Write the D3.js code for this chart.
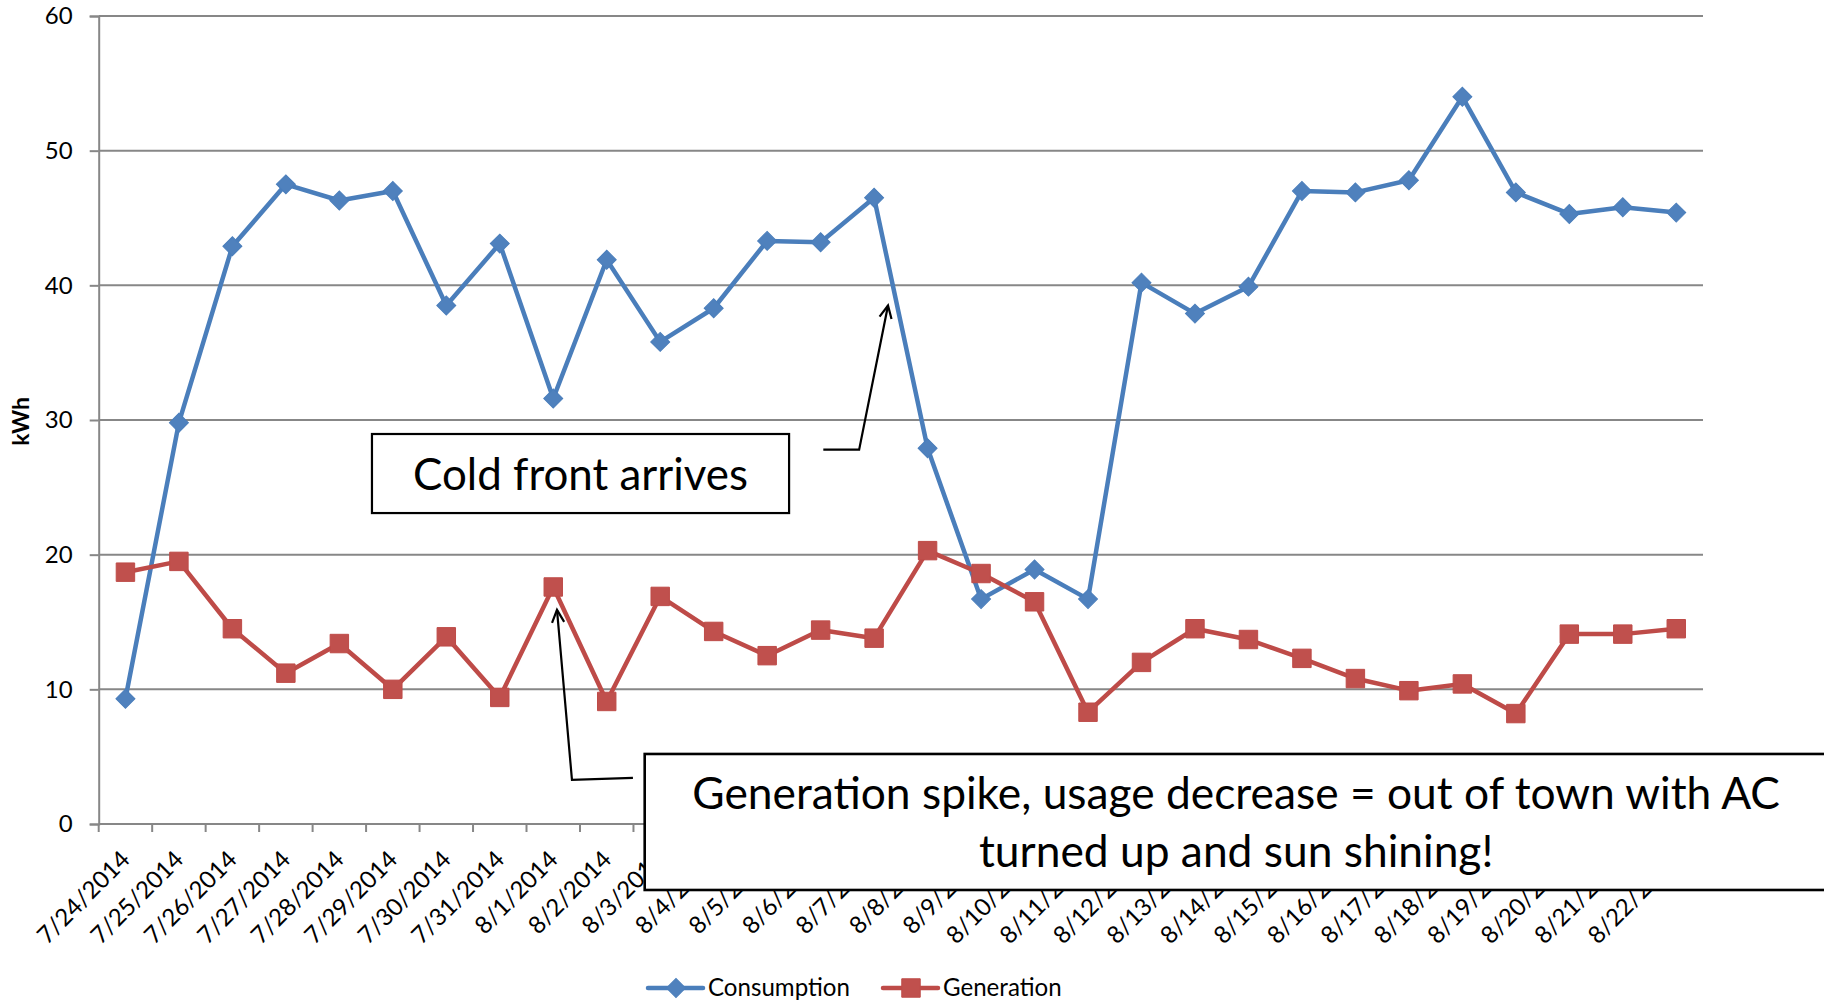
<!DOCTYPE html>
<html>
<head>
<meta charset="utf-8">
<script src="https://cdn.jsdelivr.net/npm/d3@7"></script>
<style>
  html, body { margin: 0; padding: 0; background: #fff; }
  svg { display: block; font-family: Lato, "Open Sans", sans-serif; }
</style>
</head>
<body>
<svg id="chart" width="1824" height="1001"></svg>
<script>
const categories = ["7/24/2014","7/25/2014","7/26/2014","7/27/2014","7/28/2014","7/29/2014","7/30/2014","7/31/2014",
  "8/1/2014","8/2/2014","8/3/2014","8/4/2014","8/5/2014","8/6/2014","8/7/2014","8/8/2014","8/9/2014","8/10/2014",
  "8/11/2014","8/12/2014","8/13/2014","8/14/2014","8/15/2014","8/16/2014","8/17/2014","8/18/2014","8/19/2014",
  "8/20/2014","8/21/2014","8/22/2014"];
const consumption = [9.3, 29.8, 42.9, 47.5, 46.3, 47.0, 38.5, 43.1, 31.6, 41.9, 35.8, 38.3, 43.3, 43.2, 46.5,
  27.9, 16.7, 18.9, 16.7, 40.2, 37.9, 39.9, 47.0, 46.9, 47.8, 54.0, 46.9, 45.3, 45.8, 45.4];
const generation = [18.7, 19.5, 14.5, 11.2, 13.4, 10.0, 13.9, 9.4, 17.6, 9.1, 16.9, 14.3, 12.5, 14.4, 13.8,
  20.3, 18.6, 16.5, 8.3, 12.0, 14.5, 13.7, 12.3, 10.8, 9.9, 10.4, 8.2, 14.1, 14.1, 14.5];
const yTicks = [0, 10, 20, 30, 40, 50, 60];
const seriesNames = ["Consumption", "Generation"];
const yTitle = "kWh";
const note1 = "Cold front arrives";
const note2 = ["Generation spike, usage decrease = out of town with AC", "turned up and sun shining!"];

const svg = d3.select("#chart");
const M = { left: 98.7, right: 1703, top: 16, bottom: 824 };
const BLUE_LINE = "#4A7EBB", BLUE_FILL = "#4F81BD";
const RED_LINE = "#BE4B48", RED_FILL = "#C0504D";
const GRID = "#878787";

const x = d3.scaleBand().domain(categories).range([M.left, M.right]).paddingInner(0).paddingOuter(0);
const xi = d3.scaleLinear().domain([0, categories.length]).range([M.left, M.right]); // index space
const y = d3.scaleLinear().domain([0, 60]).range([M.bottom, M.top]);
const cx = c => x(c) + x.bandwidth() / 2;

// gridlines
svg.append("g").selectAll("line").data(yTicks.filter(t => t > 0)).join("line")
  .attr("x1", M.left).attr("x2", M.right)
  .attr("y1", d => y(d)).attr("y2", d => y(d))
  .attr("stroke", GRID).attr("stroke-width", 2);

// y axis
const yAxis = svg.append("g").attr("transform", `translate(${M.left},0)`)
  .call(d3.axisLeft(y).tickValues(yTicks).tickSize(9).tickPadding(17).tickFormat(d3.format("d")));
yAxis.select(".domain").attr("stroke", GRID).attr("stroke-width", 2);
yAxis.selectAll(".tick line").attr("stroke", GRID).attr("stroke-width", 2);
yAxis.selectAll(".tick text").attr("font-size", 24).attr("fill", "#000").attr("font-family", "Lato");

// x axis line + boundary ticks
svg.append("line").attr("x1", M.left).attr("x2", M.right).attr("y1", M.bottom).attr("y2", M.bottom)
  .attr("stroke", GRID).attr("stroke-width", 2);
svg.append("g").selectAll("line").data(d3.range(categories.length + 1)).join("line")
  .attr("x1", d => xi(d)).attr("x2", d => xi(d))
  .attr("y1", M.bottom).attr("y2", M.bottom + 8)
  .attr("stroke", GRID).attr("stroke-width", 2);

// x labels
svg.append("g").selectAll("text").data(categories).join("text")
  .attr("transform", d => `translate(${cx(d) + 6},${M.bottom + 37}) rotate(-45)`)
  .attr("text-anchor", "end")
  .attr("font-size", 24)
  .attr("fill", "#000")
  .text(d => d);

// y title
svg.append("text")
  .attr("transform", `translate(29,${y(29.9)}) rotate(-90)`)
  .attr("text-anchor", "middle")
  .attr("font-size", 23).attr("font-weight", "bold").attr("fill", "#000")
  .text(yTitle);

// lines
const line = d3.line().x((d, i) => cx(categories[i])).y(d => y(d));
svg.append("path").datum(consumption).attr("d", line)
  .attr("fill", "none").attr("stroke", BLUE_LINE).attr("stroke-width", 4.5).attr("stroke-linejoin", "round");
svg.append("path").datum(generation).attr("d", line)
  .attr("fill", "none").attr("stroke", RED_LINE).attr("stroke-width", 4.5).attr("stroke-linejoin", "round");

const diamond = d3.symbol().type(d3.symbolSquare).size(180);
svg.append("g").selectAll("path").data(consumption).join("path")
  .attr("d", diamond())
  .attr("transform", (d, i) => `translate(${cx(categories[i])},${y(d)}) rotate(45)`)
  .attr("fill", BLUE_FILL).attr("stroke", BLUE_LINE).attr("stroke-width", 1);
const square = d3.symbol().type(d3.symbolSquare).size(340);
svg.append("g").selectAll("path").data(generation).join("path")
  .attr("d", square())
  .attr("transform", (d, i) => `translate(${cx(categories[i])},${y(d)})`)
  .attr("fill", RED_FILL).attr("stroke", RED_LINE).attr("stroke-width", 1);

// helper to fit text width
function fitWidth(sel, target) {
  const w = sel.node().getComputedTextLength();
  const fs = parseFloat(sel.attr("font-size"));
  const nfs = fs * target / w;
  sel.attr("font-size", nfs);
  return nfs;
}

// annotation arrows
function arrow(pts) {
  const p = pts.map(([i, v]) => [xi(i), y(v)]);
  svg.append("path").attr("d", d3.line()(p)).attr("fill", "none")
    .attr("stroke", "#000").attr("stroke-width", 2.2);
  const [a, b] = [p[p.length - 2], p[p.length - 1]];
  const ang = Math.atan2(b[1] - a[1], b[0] - a[0]);
  const L = 14, s = 0.45;
  const h1 = [b[0] - L * Math.cos(ang - s), b[1] - L * Math.sin(ang - s)];
  const h2 = [b[0] - L * Math.cos(ang + s), b[1] - L * Math.sin(ang + s)];
  svg.append("path").attr("d", d3.line()([h1, b, h2])).attr("fill", "none")
    .attr("stroke", "#000").attr("stroke-width", 2.2);
}
arrow([[13.55, 27.8], [14.22, 27.8], [14.76, 38.5]]);
arrow([[9.99, 3.42], [8.85, 3.27], [8.57, 15.9]]);

// box 1
svg.append("rect")
  .attr("x", xi(5.11)).attr("y", y(28.96))
  .attr("width", xi(12.91) - xi(5.11)).attr("height", y(23.09) - y(28.96))
  .attr("fill", "#fff").attr("stroke", "#000").attr("stroke-width", 2.2);
const t1 = svg.append("text")
  .attr("x", xi(9.01)).attr("y", y(24.8))
  .attr("text-anchor", "middle").attr("font-size", 36).attr("fill", "#000")
  .text(note1);
fitWidth(t1, 335);

// box 2
svg.append("rect")
  .attr("x", xi(10.21)).attr("y", y(5.2))
  .attr("width", xi(32.4) - xi(10.21)).attr("height", y(-4.9) - y(5.2))
  .attr("fill", "#fff").attr("stroke", "#000").attr("stroke-width", 2.6);
const t2a = svg.append("text")
  .attr("x", xi(21.27)).attr("y", y(1.11))
  .attr("text-anchor", "middle").attr("font-size", 40).attr("fill", "#000")
  .text(note2[0]);
const fs2 = fitWidth(t2a, 1088);
svg.append("text")
  .attr("x", xi(21.27)).attr("y", y(-3.19))
  .attr("text-anchor", "middle").attr("font-size", fs2).attr("fill", "#000")
  .text(note2[1]);

// legend
const legY = 988;
const leg = [
  { name: seriesNames[0], line: BLUE_LINE, fill: BLUE_FILL, x0: 648, sym: "diamond" },
  { name: seriesNames[1], line: RED_LINE, fill: RED_FILL, x0: 883, sym: "square" }
];
leg.forEach(l => {
  svg.append("line").attr("x1", l.x0).attr("x2", l.x0 + 55).attr("y1", legY).attr("y2", legY)
    .attr("stroke", l.line).attr("stroke-width", 4.5).attr("stroke-linecap", "round");
  if (l.sym === "diamond") {
    svg.append("path").attr("d", diamond()).attr("transform", `translate(${l.x0 + 28},${legY}) rotate(45)`)
      .attr("fill", l.fill).attr("stroke", l.line);
  } else {
    svg.append("path").attr("d", square()).attr("transform", `translate(${l.x0 + 28},${legY})`)
      .attr("fill", l.fill).attr("stroke", l.line);
  }
  const t = svg.append("text").attr("x", l.x0 + 60).attr("y", legY).attr("dy", "0.35em")
    .attr("font-size", 24).attr("fill", "#000").text(l.name);
  l.t = t;
});
const lfs = fitWidth(leg[0].t, 142);
leg[1].t.attr("font-size", lfs);
</script>
</body>
</html>
